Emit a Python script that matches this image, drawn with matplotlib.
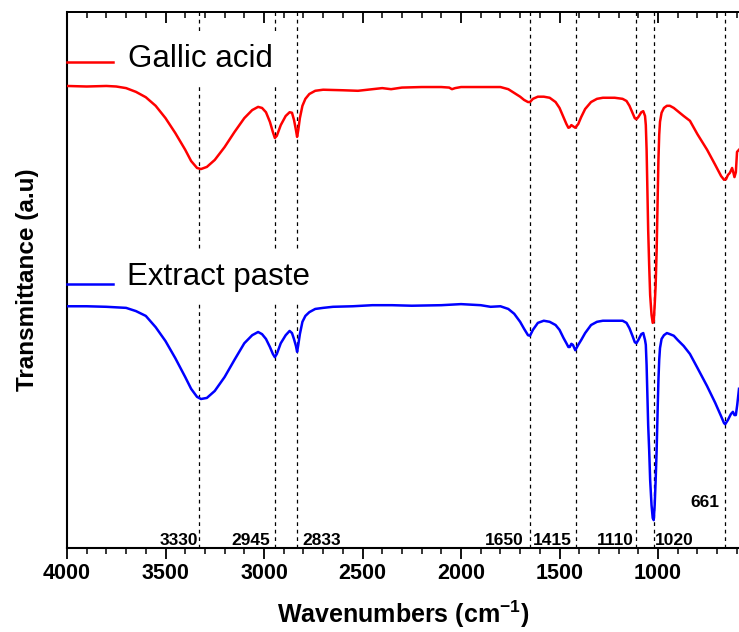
import numpy as np
import matplotlib
matplotlib.use('Agg')
import matplotlib.pyplot as plt
from matplotlib.ticker import MultipleLocator

plt.rcParams['font.family'] = ['Liberation Sans', 'DejaVu Sans']
plt.rcParams['mathtext.fontset'] = 'custom'
plt.rcParams['mathtext.rm'] = 'Liberation Sans:bold'
plt.rcParams['mathtext.default'] = 'rm'

# FTIR spectra (wavenumber cm-1, transmittance a.u.)
gallic_wn = [4000, 3900, 3800, 3750, 3700, 3650, 3600, 3550, 3500, 3450, 3400, 3370,
             3340, 3320, 3290, 3250, 3200, 3150, 3100, 3060, 3030, 3010, 2990, 2970,
             2955, 2945, 2935, 2915, 2890, 2870, 2858, 2848, 2838, 2832, 2826, 2818,
             2805, 2790, 2770, 2740, 2700, 2600, 2523, 2450, 2400, 2355, 2300, 2200,
             2100, 2060, 2046, 2030, 2000, 1900, 1800, 1760, 1730, 1700, 1680, 1660,
             1650, 1635, 1610, 1580, 1550, 1520, 1500, 1480, 1465, 1455, 1448, 1440,
             1432, 1420, 1405, 1390, 1370, 1340, 1310, 1280, 1220, 1180, 1160, 1145,
             1130, 1118, 1110, 1100, 1085, 1075, 1066, 1062, 1058, 1054, 1050, 1045,
             1040, 1033, 1027, 1022, 1017, 1012, 1007, 1002, 998, 994, 990, 982,
             970, 955, 940, 920, 900, 870, 838, 800, 751, 710, 680, 665, 655, 645,
             635, 624, 618, 612, 605, 599, 589]
gallic_t = [86.2, 86.1, 86.2, 86.1, 85.8, 85.1, 84.1, 82.5, 80.2, 77.4, 74.3, 72.2,
            70.9, 70.7, 71.1, 72.4, 74.8, 77.6, 80.2, 81.7, 82.3, 82.1, 81.3, 79.5,
            77.6, 76.5, 76.9, 78.9, 80.6, 81.3, 81.2, 79.9, 78.0, 76.7, 78.0, 80.2,
            82.5, 83.8, 84.7, 85.3, 85.5, 85.4, 85.3, 85.6, 85.8, 85.6, 85.9, 86.0,
            86.0, 85.9, 85.6, 85.8, 86.0, 86.0, 86.0, 85.6, 84.9, 84.2, 83.6, 83.2,
            83.2, 83.8, 84.2, 84.2, 84.0, 83.2, 82.1, 80.4, 79.1, 78.4, 78.5, 78.9,
            78.7, 78.4, 79.1, 80.4, 81.9, 83.2, 83.8, 84.0, 84.0, 83.8, 83.4, 82.5,
            81.2, 80.2, 80.0, 80.4, 81.3, 81.5, 80.6, 78.9, 74.3, 66.8, 59.3, 52.8,
            47.2, 43.5, 42.0, 42.2, 45.3, 49.1, 55.6, 64.9, 72.4, 77.1, 79.5, 81.2,
            82.1, 82.5, 82.5, 82.1, 81.5, 80.6, 79.7, 77.2, 74.3, 71.5, 69.4, 68.7,
            68.8, 69.6, 70.0, 70.9, 70.1, 69.2, 70.1, 73.9, 74.3]

paste_wn = [4000, 3900, 3800, 3750, 3700, 3650, 3600, 3550, 3500, 3450, 3400, 3370,
            3340, 3320, 3290, 3250, 3200, 3150, 3100, 3060, 3030, 3010, 2990, 2970,
            2955, 2945, 2935, 2915, 2890, 2870, 2858, 2848, 2838, 2832, 2826, 2818,
            2805, 2790, 2770, 2740, 2700, 2650, 2550, 2450, 2350, 2250, 2100, 2000,
            1900, 1850, 1800, 1760, 1730, 1700, 1680, 1660, 1650, 1635, 1610, 1580,
            1550, 1520, 1500, 1480, 1465, 1455, 1448, 1440, 1432, 1420, 1405, 1390,
            1370, 1340, 1310, 1280, 1220, 1180, 1160, 1145, 1130, 1118, 1110, 1100,
            1085, 1075, 1066, 1062, 1058, 1054, 1050, 1045, 1040, 1033, 1027, 1022,
            1017, 1012, 1007, 1002, 998, 994, 990, 982, 970, 955, 940, 920, 900,
            870, 838, 800, 751, 710, 680, 665, 659, 645, 630, 620, 612, 605, 598, 589]
paste_t = [45.1, 45.1, 45.0, 44.9, 44.8, 44.2, 43.3, 41.2, 38.6, 35.4, 31.9, 29.7,
           28.2, 27.8, 28.0, 29.3, 31.9, 35.1, 38.2, 39.7, 40.3, 39.9, 39.0, 37.5,
           36.2, 35.6, 36.2, 38.2, 39.7, 40.5, 40.1, 39.0, 37.7, 36.6, 37.9, 39.9,
           42.2, 43.3, 44.0, 44.6, 44.8, 45.0, 45.1, 45.3, 45.3, 45.2, 45.3, 45.5,
           45.3, 45.0, 45.1, 44.6, 43.7, 42.2, 40.9, 39.7, 39.6, 40.7, 42.0, 42.4,
           42.2, 41.6, 40.7, 39.2, 38.2, 37.5, 37.5, 38.1, 37.9, 36.9, 37.9, 38.8,
           40.1, 41.6, 42.2, 42.4, 42.4, 42.4, 42.0, 41.0, 39.6, 38.4, 38.2, 38.8,
           39.9, 40.1, 38.8, 37.9, 34.1, 28.5, 22.9, 18.3, 12.7, 8.0, 5.6, 5.2,
           8.0, 12.7, 18.3, 25.7, 31.3, 35.1, 37.3, 39.0, 39.7, 40.1, 39.9, 39.6, 38.8,
           37.7, 36.2, 33.6, 30.2, 27.1, 24.6, 23.3, 23.1, 23.9, 25.0, 25.4, 24.8, 24.8,
           26.7, 29.7]

# marked bands, label anchor x, alignment, label height
peaks = [3330, 2945, 2833, 1650, 1415, 1110, 1020, 661]
peak_text_x = [3335, 2970, 2807, 1680, 1634, 1122, 1015, 690]
peak_ha = ['right', 'right', 'left', 'right', 'left', 'right', 'left', 'right']
peak_text_y = [0.6, 0.6, 0.6, 0.6, 0.6, 0.6, 0.6, 7.65]

fig = plt.figure(figsize=(7.39, 6.32), dpi=100)
ax = fig.add_axes([67 / 739, 84 / 632, 672 / 739, 536 / 632])

for w in peaks:
    ax.axvline(w, color='black', ls=(0, (3, 3)), lw=0.9, zorder=1)

ax.plot(gallic_wn, gallic_t, color='#ff0000', lw=1.8, zorder=3)
ax.plot(paste_wn, paste_t, color='#0000ff', lw=1.8, zorder=3)

for w, tx, ha, ty in zip(peaks, peak_text_x, peak_ha, peak_text_y):
    ax.text(tx, ty, str(w), ha=ha, va='baseline', fontsize=12.5,
            fontweight='bold', zorder=4)

# hand-placed legend entries
ax.plot([0, 0.0685], [0.907, 0.907], color='#ff0000', lw=1.8,
        transform=ax.transAxes, clip_on=False, zorder=4)
ax.text(0.0908, 0.897, 'Gallic acid', transform=ax.transAxes, fontsize=22.5,
        va='baseline', zorder=2,
        bbox=dict(facecolor='white', edgecolor='none', pad=8.6))
ax.plot([0, 0.0685], [0.4925, 0.4925], color='#0000ff', lw=1.8,
        transform=ax.transAxes, clip_on=False, zorder=4)
ax.text(0.0893, 0.491, 'Extract paste', transform=ax.transAxes, fontsize=22.5,
        va='baseline', zorder=2,
        bbox=dict(facecolor='white', edgecolor='none', pad=8.6))

ax.set_xlim(4000, 589)
ax.set_ylim(0, 100)
ax.xaxis.set_major_locator(MultipleLocator(500))
ax.xaxis.set_minor_locator(MultipleLocator(100))
ax.tick_params(axis='x', which='major', direction='out', length=8, width=1.3,
               labelsize=15.5, pad=3)
ax.tick_params(axis='x', which='minor', direction='out', length=4, width=1.1)
for lab in ax.get_xticklabels():
    lab.set_fontweight('bold')
ax.set_yticks([])

top = ax.secondary_xaxis('top')
top.xaxis.set_major_locator(MultipleLocator(500))
top.xaxis.set_minor_locator(MultipleLocator(100))
top.tick_params(axis='x', which='major', direction='in', length=8, width=1.3,
                labeltop=False)
top.tick_params(axis='x', which='minor', direction='in', length=4, width=1.1)
top.spines['top'].set_linewidth(1.3)

ax.spines['right'].set_visible(False)
ax.spines['left'].set_linewidth(1.5)
ax.spines['bottom'].set_linewidth(1.5)
ax.spines['top'].set_linewidth(1.3)

ax.set_xlabel('Wavenumbers (cm$^{-1}$)', fontsize=18, fontweight='bold', labelpad=10)
ax.set_ylabel('Transmittance (a.u)', fontsize=17.5, fontweight='bold', labelpad=20)

plt.savefig('out.png', dpi=100)
